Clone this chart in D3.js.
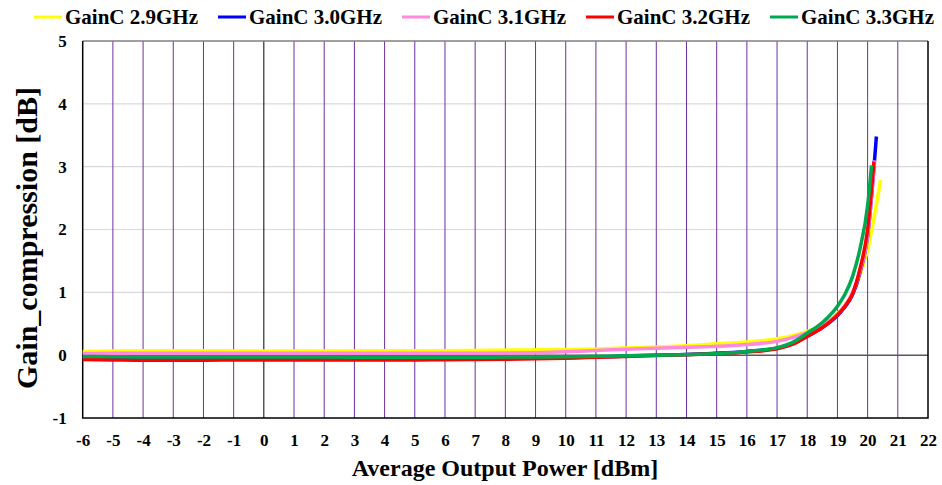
<!DOCTYPE html>
<html>
<head>
<meta charset="utf-8">
<script src="https://cdn.jsdelivr.net/npm/d3@7"></script>
<style>
body { margin:0; background:#fff; }
</style>
</head>
<body>
<svg id="graph"></svg>
<script>
var serif = "'Liberation Serif','Times New Roman',serif";

// output power grid [dBm], shared by all series
var pout = [-6,-5,-4,-3,-2,-1,0,1,2,3,4,5,6,7,8,9,10,11,12,13,14,15,16,17,
            17.5,18,18.5,19,19.25,19.5,19.75,20];

var gain29 = [0.06,0.065,0.07,0.07,0.07,0.068,0.066,0.065,0.066,0.068,0.07,0.07,0.072,0.075,0.08,0.085,
              0.09,0.10,0.115,0.13,0.15,0.18,0.21,0.26,0.31,0.38,0.48,0.66,0.80,0.98,1.28,1.68];
var gain30 = [-0.05,-0.052,-0.055,-0.055,-0.055,-0.054,-0.053,-0.052,-0.052,-0.053,-0.054,-0.053,-0.052,-0.05,-0.048,-0.045,
              -0.04,-0.03,-0.015,0.0,0.01,0.03,0.06,0.11,0.18,0.30,0.44,0.63,0.77,0.96,1.32,1.90];
var gain31 = [0.025,0.03,0.03,0.03,0.03,0.03,0.03,0.03,0.03,0.03,0.03,0.03,0.03,0.032,0.034,0.04,
              0.055,0.075,0.095,0.11,0.125,0.14,0.17,0.22,0.28,0.36,0.47,0.65,0.79,0.99,1.34,1.90];
var gain32 = [-0.07,-0.075,-0.08,-0.08,-0.08,-0.078,-0.076,-0.075,-0.075,-0.076,-0.077,-0.075,-0.072,-0.07,-0.065,-0.058,
              -0.048,-0.035,-0.02,-0.005,0.008,0.025,0.05,0.10,0.17,0.30,0.44,0.64,0.78,0.98,1.38,2.00];
var gain33 = [-0.02,-0.025,-0.03,-0.03,-0.03,-0.03,-0.03,-0.03,-0.03,-0.033,-0.035,-0.035,-0.035,-0.033,-0.03,-0.028,
              -0.026,-0.018,-0.01,0.0,0.01,0.025,0.06,0.12,0.20,0.35,0.52,0.78,0.97,1.25,1.70,2.38];

// last measured point of each series (they stop at different powers)
var lastPout = [20.43,20.29,20.23,20.21,20.13];
var lastGain = [2.79,3.48,3.10,3.08,3.02];

var seriesNames = ["GainC 2.9GHz","GainC 3.0GHz","GainC 3.1GHz","GainC 3.2GHz","GainC 3.3GHz"];
var seriesColors = ["#FFFF00","#0000FF","#FF88E0","#FF0000","#00A850"];
var seriesGain = [gain29,gain30,gain31,gain32,gain33];

var xTicks = d3.range(-6,23,1);
var yTicks = [-1,0,1,2,3,4,5];

var screen = {width:942, height:485};
var margins = {top:41, bottom:67, left:82.7, right:14};

var graph =
{
    width:screen.width-margins.left-margins.right,
    height:screen.height-margins.top-margins.bottom
}

var svg = d3.select("#graph")
    .attr("width",screen.width)
    .attr("height",screen.height)

var xScale = d3.scaleLinear()
    .domain([-6,22])
    .range([margins.left,margins.left+graph.width])

var yScale = d3.scaleLinear()
    .domain([-1,5])
    .range([margins.top+graph.height,margins.top])

// horizontal grid
svg.append("g")
    .selectAll("line")
    .data([1,2,3,4])
    .enter()
    .append("line")
    .attr("x1",xScale(-6))
    .attr("x2",xScale(22))
    .attr("y1",function(d){return yScale(d);})
    .attr("y2",function(d){return yScale(d);})
    .attr("stroke","#D9D9D9")
    .attr("stroke-width",1.2)

// vertical grid (purple), zero line black
svg.append("g")
    .selectAll("line")
    .data(xTicks.filter(function(d){return d>-6 && d<22;}))
    .enter()
    .append("line")
    .attr("x1",function(d){return xScale(d);})
    .attr("x2",function(d){return xScale(d);})
    .attr("y1",yScale(5))
    .attr("y2",yScale(-1))
    .attr("stroke",function(d){return d==0 ? "#000" : "#7030A0";})
    .attr("stroke-width",1)

// y = 0 line
svg.append("line")
    .attr("x1",xScale(-6))
    .attr("x2",xScale(22))
    .attr("y1",yScale(0))
    .attr("y2",yScale(0))
    .attr("stroke","#595959")
    .attr("stroke-width",1.5)

// frame
svg.append("line")
    .attr("x1",xScale(-6)).attr("x2",xScale(22))
    .attr("y1",yScale(5)).attr("y2",yScale(5))
    .attr("stroke","#7F7F7F").attr("stroke-width",1.5)
svg.append("path")
    .attr("d","M"+xScale(-6)+","+yScale(5)+"V"+yScale(-1)+"H"+xScale(22)+"V"+yScale(5))
    .attr("fill","none")
    .attr("stroke","#000")
    .attr("stroke-width",1.5)

// curves
var line = d3.line()
    .x(function(d){return xScale(d[0]);})
    .y(function(d){return yScale(d[1]);})
    .curve(d3.curveMonotoneX)

var curves = svg.append("g")
seriesGain.forEach(function(g,i)
{
    var pts = pout.map(function(p,j){return [p,g[j]];});
    pts.push([lastPout[i],lastGain[i]]);
    curves.append("path")
        .datum(pts)
        .attr("d",line)
        .attr("fill","none")
        .attr("stroke",seriesColors[i])
        .attr("stroke-width",3.5)
        .attr("stroke-linejoin","round")
})

// axes
var fmt = function(d){return d<0 ? "-"+Math.abs(d) : d;};
var xAxis = d3.axisBottom(xScale).tickValues(xTicks).tickSize(0).tickPadding(16).tickFormat(fmt)
var yAxis = d3.axisLeft(yScale).tickValues(yTicks).tickSize(0).tickPadding(16).tickFormat(fmt)

var gx = svg.append("g")
    .attr("transform","translate(0,"+yScale(-1)+")")
    .call(xAxis)
var gy = svg.append("g")
    .attr("transform","translate("+xScale(-6)+",0)")
    .call(yAxis)
gx.select(".domain").remove()
gy.select(".domain").remove()
svg.selectAll(".tick text")
    .style("font-family",serif)
    .style("font-weight","bold")
    .style("font-size","17px")
    .attr("fill","#000")

// titles
svg.append("text")
    .attr("x",505)
    .attr("y",476)
    .attr("text-anchor","middle")
    .style("font-family",serif)
    .style("font-weight","bold")
    .style("font-size","24px")
    .text("Average Output Power [dBm]")

svg.append("text")
    .attr("transform","translate(37,238) rotate(-90)")
    .attr("text-anchor","middle")
    .style("font-family",serif)
    .style("font-weight","bold")
    .style("font-size","30px")
    .text("Gain_compression [dB]")

// legend
var legend = svg.append("g")
    .selectAll("g")
    .data(seriesNames)
    .enter()
    .append("g")
    .attr("transform",function(d,i){return "translate("+(34+i*184)+",17)";})
legend.append("line")
    .attr("x1",0).attr("x2",28)
    .attr("stroke",function(d,i){return seriesColors[i];})
    .attr("stroke-width",3)
legend.append("text")
    .attr("x",31)
    .attr("y",7)
    .style("font-family",serif)
    .style("font-weight","bold")
    .style("font-size","21px")
    .text(function(d){return d;})
</script>
</body>
</html>
